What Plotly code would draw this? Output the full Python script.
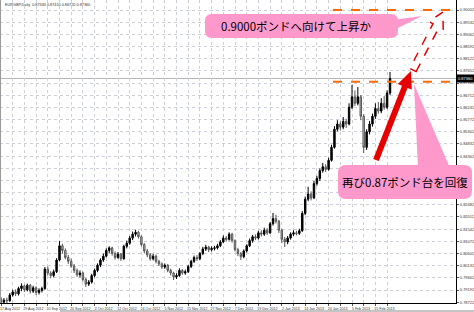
import math
import pandas as pd
import plotly.graph_objects as go

# ---------------- data ----------------
holidays = ["2012-12-25", "2013-01-01"]
dates = [d.strftime("%Y-%m-%d") for d in pd.bdate_range("2012-08-17", "2013-02-22")
         if d.strftime("%Y-%m-%d") not in holidays]

opens = [0.7885, 0.7872, 0.7880, 0.7878, 0.7900, 0.7912, 0.7905, 0.7925, 0.7935, 0.7920,
         0.7938, 0.7915, 0.7928, 0.7910, 0.7918, 0.7925, 0.8000, 0.7985, 0.7975, 0.7990,
         0.8035, 0.8090, 0.8072, 0.8045, 0.8030, 0.8012, 0.7995, 0.7978, 0.7985, 0.7960,
         0.7942, 0.7950, 0.7975, 0.7995, 0.8015, 0.8035, 0.8050, 0.8072, 0.8082, 0.8060,
         0.8045, 0.8058, 0.8040, 0.8088, 0.8100, 0.8120, 0.8135, 0.8142, 0.8125, 0.8095,
         0.8070, 0.8055, 0.8040, 0.8050, 0.8030, 0.8020, 0.8008, 0.8015, 0.7995, 0.7985,
         0.7970, 0.7975, 0.7995, 0.7985, 0.7990, 0.8010, 0.8030, 0.8045, 0.8040, 0.8060,
         0.8078, 0.8085, 0.8075, 0.8080, 0.8082, 0.8090, 0.8105, 0.8120, 0.8115, 0.8135,
         0.8110, 0.8075, 0.8060, 0.8048, 0.8070, 0.8090, 0.8110, 0.8125, 0.8120, 0.8140,
         0.8135, 0.8150, 0.8140, 0.8175, 0.8195, 0.8185, 0.8150, 0.8115, 0.8105, 0.8120,
         0.8135, 0.8140, 0.8138, 0.8148, 0.8215, 0.8270, 0.8290, 0.8275, 0.8330, 0.8350,
         0.8380, 0.8395, 0.8385, 0.8420, 0.8470, 0.8540, 0.8560, 0.8548, 0.8570, 0.8560,
         0.8625, 0.8665, 0.8640, 0.8665, 0.8590, 0.8470, 0.8530, 0.8560, 0.8590, 0.8620,
         0.8610, 0.8640, 0.8625, 0.8680]
closes = [0.7872, 0.7880, 0.7878, 0.7900, 0.7912, 0.7905, 0.7925, 0.7935, 0.7920, 0.7938,
          0.7915, 0.7928, 0.7910, 0.7918, 0.7925, 0.8000, 0.7985, 0.7975, 0.7990, 0.8035,
          0.8090, 0.8072, 0.8045, 0.8030, 0.8012, 0.7995, 0.7978, 0.7985, 0.7960, 0.7942,
          0.7950, 0.7975, 0.7995, 0.8015, 0.8035, 0.8050, 0.8072, 0.8082, 0.8060, 0.8045,
          0.8058, 0.8040, 0.8088, 0.8100, 0.8120, 0.8135, 0.8142, 0.8125, 0.8095, 0.8070,
          0.8055, 0.8040, 0.8050, 0.8030, 0.8020, 0.8008, 0.8015, 0.7995, 0.7985, 0.7970,
          0.7975, 0.7995, 0.7985, 0.7990, 0.8010, 0.8030, 0.8045, 0.8040, 0.8060, 0.8078,
          0.8085, 0.8075, 0.8080, 0.8082, 0.8090, 0.8105, 0.8120, 0.8115, 0.8135, 0.8110,
          0.8075, 0.8060, 0.8048, 0.8070, 0.8090, 0.8110, 0.8125, 0.8120, 0.8140, 0.8135,
          0.8150, 0.8140, 0.8175, 0.8195, 0.8185, 0.8150, 0.8115, 0.8105, 0.8120, 0.8135,
          0.8140, 0.8138, 0.8148, 0.8215, 0.8270, 0.8290, 0.8275, 0.8330, 0.8350, 0.8380,
          0.8395, 0.8385, 0.8420, 0.8470, 0.8540, 0.8560, 0.8548, 0.8570, 0.8560, 0.8625,
          0.8665, 0.8640, 0.8665, 0.8590, 0.8470, 0.8530, 0.8560, 0.8590, 0.8620, 0.8610,
          0.8640, 0.8625, 0.8680, 0.8736]
highs = [0.7892, 0.7888, 0.7890, 0.7908, 0.7920, 0.7922, 0.7932, 0.7945, 0.7940, 0.7944,
         0.7942, 0.7936, 0.7934, 0.7926, 0.7932, 0.8008, 0.8010, 0.7992, 0.7998, 0.8042,
         0.8108, 0.8098, 0.8080, 0.8055, 0.8040, 0.8020, 0.8002, 0.7995, 0.7990, 0.7966,
         0.7958, 0.7982, 0.8002, 0.8022, 0.8042, 0.8060, 0.8080, 0.8088, 0.8086, 0.8068,
         0.8066, 0.8062, 0.8094, 0.8110, 0.8128, 0.8145, 0.8152, 0.8148, 0.8130, 0.8100,
         0.8078, 0.8062, 0.8058, 0.8056, 0.8036, 0.8026, 0.8022, 0.8020, 0.8002, 0.7990,
         0.7984, 0.8003, 0.8000, 0.7998, 0.8016, 0.8036, 0.8052, 0.8054, 0.8066, 0.8086,
         0.8094, 0.8090, 0.8088, 0.8090, 0.8098, 0.8112, 0.8130, 0.8128, 0.8142, 0.8140,
         0.8115, 0.8082, 0.8066, 0.8076, 0.8096, 0.8118, 0.8132, 0.8134, 0.8148, 0.8150,
         0.8160, 0.8158, 0.8182, 0.8217, 0.8210, 0.8190, 0.8156, 0.8124, 0.8128, 0.8142,
         0.8150, 0.8148, 0.8156, 0.8224, 0.8280, 0.8318, 0.8300, 0.8340, 0.8360, 0.8388,
         0.8410, 0.8405, 0.8430, 0.8480, 0.8552, 0.8575, 0.8570, 0.8587, 0.8580, 0.8640,
         0.8711, 0.8690, 0.8703, 0.8672, 0.8598, 0.8540, 0.8572, 0.8600, 0.8640, 0.8645,
         0.8660, 0.8668, 0.8690, 0.8761]
lows = [0.7866, 0.7865, 0.7868, 0.7874, 0.7894, 0.7896, 0.7898, 0.7915, 0.7912, 0.7914,
        0.7906, 0.7908, 0.7900, 0.7902, 0.7910, 0.7920, 0.7975, 0.7965, 0.7968, 0.7985,
        0.8030, 0.8060, 0.8038, 0.8020, 0.8005, 0.7985, 0.7970, 0.7968, 0.7952, 0.7931,
        0.7935, 0.7944, 0.7968, 0.7988, 0.8008, 0.8028, 0.8045, 0.8062, 0.8052, 0.8036,
        0.8040, 0.8032, 0.8036, 0.8080, 0.8094, 0.8112, 0.8126, 0.8118, 0.8088, 0.8062,
        0.8046, 0.8032, 0.8034, 0.8022, 0.8012, 0.8000, 0.8001, 0.7988, 0.7976, 0.7958,
        0.7962, 0.7970, 0.7978, 0.7978, 0.7985, 0.8004, 0.8024, 0.8032, 0.8035, 0.8054,
        0.8070, 0.8066, 0.8068, 0.8072, 0.8076, 0.8085, 0.8100, 0.8106, 0.8110, 0.8102,
        0.8068, 0.8050, 0.8035, 0.8042, 0.8064, 0.8085, 0.8102, 0.8112, 0.8114, 0.8126,
        0.8128, 0.8132, 0.8136, 0.8168, 0.8176, 0.8140, 0.8100, 0.8085, 0.8096, 0.8114,
        0.8128, 0.8130, 0.8132, 0.8144, 0.8208, 0.8262, 0.8265, 0.8270, 0.8322, 0.8340,
        0.8372, 0.8375, 0.8380, 0.8415, 0.8465, 0.8532, 0.8535, 0.8540, 0.8545, 0.8555,
        0.8618, 0.8630, 0.8632, 0.8575, 0.8448, 0.8460, 0.8520, 0.8550, 0.8580, 0.8600,
        0.8602, 0.8615, 0.8618, 0.8672]

price_ticks = [0.90002, 0.89532, 0.89062, 0.88592, 0.88122, 0.87652, 0.87182, 0.86712,
               0.86242, 0.85772, 0.85302, 0.84832, 0.84362, 0.83892, 0.83422, 0.82952,
               0.82482, 0.82012, 0.81542, 0.81072, 0.80602, 0.80132, 0.79662, 0.79192,
               0.78722]
hidden_ticks = [0.83892, 0.83422, 0.82952]   # covered by the lower callout in the reference
target_level = 0.9000
recovered_level = 0.8723
title_text = "EURGBP,Daily  0.87340 0.87410 0.86720 0.87360"
callout_top = "0.9000ポンドへ向けて上昇か"
callout_bottom = "再び0.87ポンド台を回復"

# ---------------- layout geometry ----------------
W, H = 474, 312
ML, MR, MT, MB = 0, 18, 0, 9
PW, PH = W - ML - MR, H - MT - MB


def px(x):
    return (x - ML) / PW


def py(y):
    return 1 - (y - MT) / PH


def poly(points):
    return "M " + " L ".join(f"{px(x):.5f},{py(y):.5f}" for x, y in points) + " Z"


def rrect(x0, y0, x1, y1, r):
    P = lambda x, y: f"{px(x):.5f},{py(y):.5f}"
    return (f"M {P(x0 + r, y0)} L {P(x1 - r, y0)} Q {P(x1, y0)} {P(x1, y0 + r)} "
            f"L {P(x1, y1 - r)} Q {P(x1, y1)} {P(x1 - r, y1)} L {P(x0 + r, y1)} "
            f"Q {P(x0, y1)} {P(x0, y1 - r)} L {P(x0, y0 + r)} Q {P(x0, y0)} {P(x0 + r, y0)} Z")


def arrow(x0, y0, x1, y1, sw, hw, hl):
    dx, dy = x1 - x0, y1 - y0
    L = math.hypot(dx, dy)
    ux, uy = dx / L, dy / L
    nx, ny = -uy, ux
    bx, by = x1 - hl * ux, y1 - hl * uy
    return [(x0 + sw * nx, y0 + sw * ny), (bx + sw * nx, by + sw * ny),
            (bx + hw * nx, by + hw * ny), (x1, y1),
            (bx - hw * nx, by - hw * ny), (bx - sw * nx, by - sw * ny),
            (x0 - sw * nx, y0 - sw * ny)]


tickvals = dates[::4]
ticktext = [pd.Timestamp(d).strftime("%-d %b %Y") if k % 2 == 0 else "" for k, d in enumerate(tickvals)]
yticktext = ["" if v in hidden_ticks else f"{v:.5f}" for v in price_ticks]

fig = go.Figure(go.Candlestick(
    x=dates, open=opens, high=highs, low=lows, close=closes,
    increasing=dict(line=dict(color="#000000", width=1), fillcolor="#000000"),
    decreasing=dict(line=dict(color="#555555", width=1), fillcolor="#c4c4c4"),
    whiskerwidth=0, hoverinfo="skip", showlegend=False,
))

ppb = 2.925
r0 = -1 / ppb
grid = dict(showgrid=True, gridcolor="#cdd0da", griddash="dot", gridwidth=1)
fig.update_layout(
    width=W, height=H, margin=dict(l=ML, r=MR, t=MT, b=MB),
    paper_bgcolor="white", plot_bgcolor="white",
    font=dict(family="Liberation Sans, Arial", size=4, color="#333333"),
    xaxis=dict(type="category", range=[r0, r0 + PW / ppb], rangeslider=dict(visible=False),
               tickmode="array", tickvals=tickvals, ticktext=ticktext, **grid,
               showline=True, linecolor="#000000", linewidth=1,
               ticks="outside", ticklen=2, tickcolor="#555", ticklabelshift=9,
               tickfont=dict(size=3.6, color="#333"), zeroline=False, fixedrange=True),
    yaxis=dict(side="right", range=[0.78692, 0.90388], tickmode="array", tickvals=price_ticks,
               ticktext=yticktext, **grid,
               showline=True, linecolor="#000000", linewidth=1,
               ticks="outside", ticklen=2, tickcolor="#555",
               tickfont=dict(size=4, color="#333"), zeroline=False, fixedrange=True),
)

shapes = []
shapes.append(dict(type="line", xref="paper", yref="paper", x0=px(0.5), x1=px(0.5), y0=0, y1=1,
                   line=dict(color="#9a9a9a", width=1)))
shapes.append(dict(type="line", xref="paper", yref="paper", x0=px(60), x1=px(474), y0=py(311), y1=py(311),
                   line=dict(color="#8a8a8a", width=1)))
shapes.append(dict(type="line", xref="paper", yref="y", x0=0, x1=1, y0=closes[-1], y1=closes[-1],
                   line=dict(color="#b4b4b4", width=1), layer="below"))
for lvl in (target_level, recovered_level):
    shapes.append(dict(type="line", xref="paper", yref="y", x0=px(333), x1=px(456), y0=lvl, y1=lvl,
                       line=dict(color="#ff6a00", width=2, dash="dash")))
shapes.append(dict(type="path", xref="paper", yref="paper",
                   path=poly(arrow(376, 160, 411, 71, 3, 7.5, 17)),
                   fillcolor="#e60000", line=dict(width=0)))
shapes.append(dict(type="path", xref="paper", yref="paper",
                   path=poly(arrow(413, 70, 443, 12, 3.5, 8, 15)),
                   fillcolor="white", line=dict(color="#e60000", width=1.5, dash="dash")))
pink = "#ff99cc"
shapes.append(dict(type="path", xref="paper", yref="paper", path=rrect(205, 14, 398, 38, 7),
                   fillcolor=pink, line=dict(width=0)))
shapes.append(dict(type="path", xref="paper", yref="paper",
                   path=poly([(392, 20), (422, 16), (392, 31)]), fillcolor=pink, line=dict(width=0)))
shapes.append(dict(type="path", xref="paper", yref="paper", path=rrect(338, 165, 472, 199, 8),
                   fillcolor=pink, line=dict(width=0)))
shapes.append(dict(type="path", xref="paper", yref="paper",
                   path=poly([(414, 84), (450, 168), (418, 168)]), fillcolor=pink, line=dict(width=0)))
fig.update_layout(shapes=shapes)

jp = dict(family="Noto Sans CJK JP", size=11.5, color="#000000")
fig.add_annotation(x=px(296), y=py(26), xref="paper", yref="paper", text=callout_top,
                   showarrow=False, font=jp, xanchor="center", yanchor="middle")
fig.add_annotation(x=px(405), y=py(182), xref="paper", yref="paper", text=callout_bottom,
                   showarrow=False, font=jp, xanchor="center", yanchor="middle")
fig.add_annotation(x=px(3), y=py(5), xref="paper", yref="paper", text=title_text,
                   showarrow=False, font=dict(family="Liberation Sans", size=3.8, color="#333"),
                   xanchor="left", yanchor="middle")
fig.add_annotation(x=1, y=closes[-1], xref="paper", yref="y", text=f"{closes[-1]:.5f}",
                   showarrow=False, font=dict(family="Liberation Sans", size=4, color="white"),
                   bgcolor="#000000", xanchor="left", yanchor="middle", borderpad=1)

fig.write_html("out.html")
